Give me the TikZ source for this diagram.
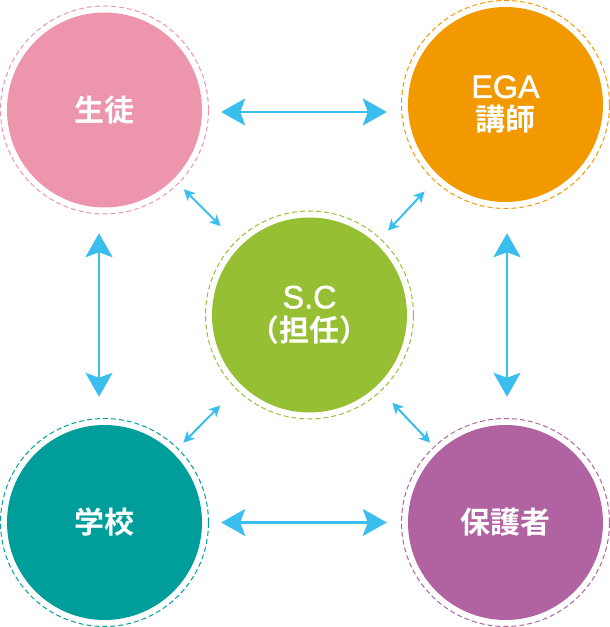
\documentclass[tikz,border=0pt]{standalone}
\usepackage{fontspec}
\newfontfamily\jpfont{Noto Sans CJK JP}[UprightFont={* Bold}]
\newfontfamily\latfont{Liberation Sans}[Scale=1.08, FakeBold=1.2]
\usepackage{tikz}
\usetikzlibrary{positioning}
\usetikzlibrary{arrows.meta}
\usepackage{xcolor}
\definecolor{pinkc}{RGB}{238,149,174}
\definecolor{orangec}{RGB}{243,153,0}
\definecolor{greenc}{RGB}{150,191,52}
\definecolor{tealc}{RGB}{0,158,154}
\definecolor{purplec}{RGB}{176,98,161}
\definecolor{arrowc}{RGB}{58,190,238}

\begin{document}
\begin{tikzpicture}[x=1pt, y=1pt,
    role/.style={circle, minimum size=195pt, inner sep=0pt, text=white, align=center,
        font=\jpfont\fontsize{30}{33}\selectfont},
    halo/.style={dash pattern=on 5pt off 3pt, line width=1pt},
    link/.style={draw=arrowc, line width=2.6pt,
        {Stealth[length=24pt, width=27pt, inset=5pt]}-{Stealth[length=24pt, width=27pt, inset=5pt]}},
    slink/.style={draw=arrowc, line width=2pt,
        {Stealth[length=11pt, width=11pt, inset=3pt]}-{Stealth[length=11pt, width=11pt, inset=3pt]}}]
    \useasboundingbox (0,0) rectangle (610,627);
    \node[role, fill=greenc] (sc) at (309.5,312) {{\latfont S.C}\\（担任）};
    \node[role, fill=pinkc] (student) at (104.5,517) {生徒};
    \node[role, fill=orangec] (ega) at (505.5,522.5) {{\latfont EGA}\\講師};
    \node[role, fill=tealc] (school) at (104.5,104.5) {学校};
    \node[role, fill=purplec] (parent) at (505.5,104.5) {保護者};
    \draw[halo, draw=greenc] (sc.center) circle (104);
    \draw[halo, draw=pinkc] (student.center) circle (104);
    \draw[halo, draw=orangec] (ega.center) circle (104);
    \draw[halo, draw=tealc] (school.center) circle (104);
    \draw[halo, draw=purplec] (parent.center) circle (104);
    \draw[link, shorten <=19pt, shorten >=21pt] ([yshift=-2pt]student.east) -- ([yshift=-7.5pt]ega.west);
    \draw[link, shorten <=19pt, shorten >=21pt] (school.east) -- (parent.west);
    \draw[link, shorten <=25.5pt, shorten >=28pt] ([xshift=-5.5pt]student.south) -- ([xshift=-5.5pt]school.north);
    \draw[link, shorten <=31pt, shorten >=28pt] ([xshift=1.5pt]ega.south) -- ([xshift=1.5pt]parent.north);
    \draw[slink, shorten <=28pt, shorten >=14.5pt] (sc) -- (student);
    \draw[slink, shorten <=17.5pt, shorten >=21pt] (sc) -- (ega);
    \draw[slink, shorten <=29.5pt, shorten >=14.5pt] (sc) -- (school);
    \draw[slink, shorten <=23pt, shorten >=12pt] (sc) -- (parent);
\end{tikzpicture}
\end{document}
